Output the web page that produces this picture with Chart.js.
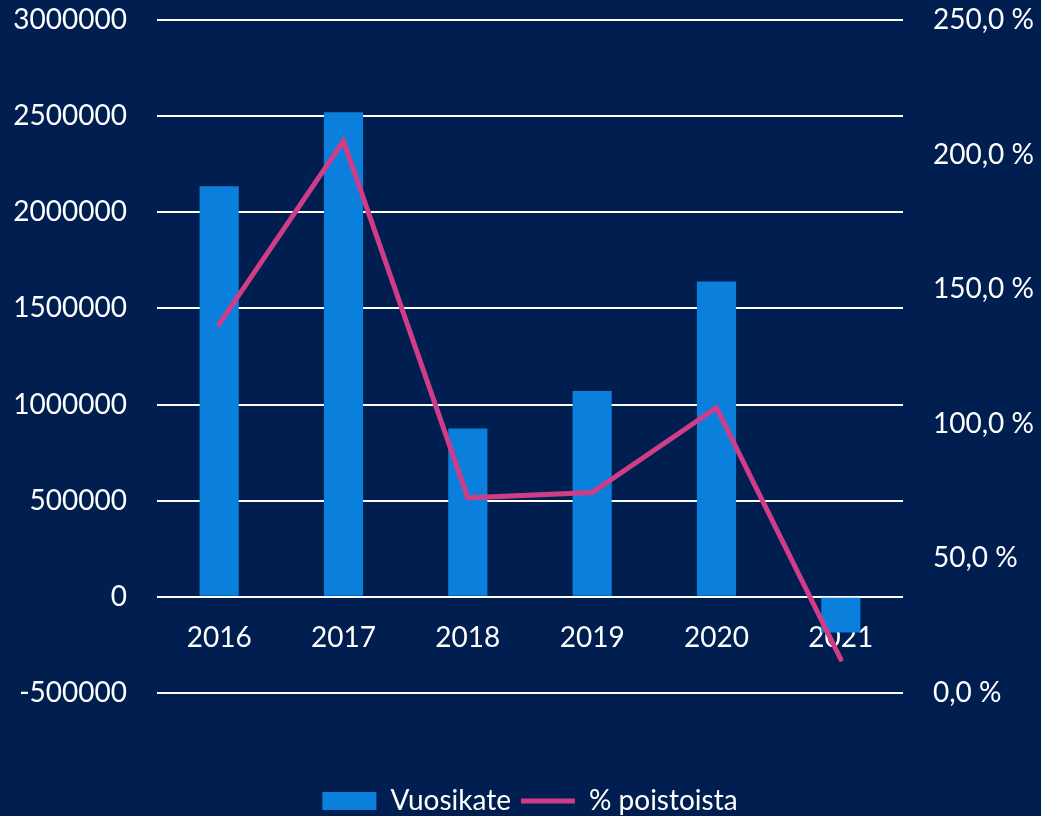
<!DOCTYPE html>
<html>
<head>
<meta charset="utf-8">
<script src="https://cdn.jsdelivr.net/npm/chart.js@4/dist/chart.umd.min.js"></script>
<style>
  html, body { margin: 0; padding: 0; background: #001e50; }
  #wrap { width: 1041px; height: 816px; }
</style>
</head>
<body>
<div id="wrap"><canvas id="js-chart-vuosikate"></canvas></div>
<script>
// Chart data
const years = ['2016', '2017', '2018', '2019', '2020', '2021'];
const vuosikate = [2135000, 2520000, 875000, 1070000, 1640000, -185000];
const poistoista = [137.0, 205.0, 72.5, 74.5, 106.0, 12.5];
const leftTicks = [-500000, 0, 500000, 1000000, 1500000, 2000000, 2500000, 3000000];
const rightTicks = [0, 50, 100, 150, 200, 250];

// Global defaults
Chart.defaults.color = '#ffffff';
Chart.defaults.font.family = 'Lato, "Open Sans", sans-serif';
Chart.defaults.font.size = 28;

let chartCon = document.getElementById('js-chart-vuosikate');

// keep the plot area where the reference has it
function noPad(scale) {
  scale.paddingTop = 0;
  scale.paddingBottom = 0;
}

let chartData = {
  labels: years,
  datasets: [
    {
      type: 'bar',
      label: 'Vuosikate',
      data: vuosikate,
      backgroundColor: '#0a80dc',
      borderWidth: 0,
      barPercentage: 0.315,
      categoryPercentage: 1,
      pointStyle: 'rect',
      yAxisID: 'y',
      order: 1
    },
    {
      type: 'line',
      label: '% poistoista',
      data: poistoista,
      borderColor: '#d13c86',
      backgroundColor: '#d13c86',
      borderWidth: 5,
      borderCapStyle: 'round',
      tension: 0,
      pointRadius: 0,
      pointStyle: 'line',
      yAxisID: 'y1',
      order: 0
    }
  ]
};

let chartOptions = {
  responsive: true,
  maintainAspectRatio: false,
  animation: false,
  layout: {
    padding: { left: 0, right: 0, top: 20, bottom: -9 }
  },
  scales: {
    x: {
      position: { y: 0 },
      grid: { display: false },
      border: { display: false },
      ticks: { padding: 16 },
      afterFit: function (scale) { scale.height = 0; }
    },
    y: {
      position: 'left',
      min: leftTicks[0],
      max: leftTicks[leftTicks.length - 1],
      afterBuildTicks: function (scale) {
        scale.ticks = leftTicks.map(v => ({ value: v }));
      },
      grid: { color: '#ffffff', lineWidth: 2, drawTicks: false },
      border: { display: false },
      ticks: {
        padding: 30,
        callback: function (value) { return String(value); }
      },
      afterFit: function (scale) { scale.width = 157; noPad(scale); }
    },
    y1: {
      position: 'right',
      min: rightTicks[0],
      max: rightTicks[rightTicks.length - 1],
      afterBuildTicks: function (scale) {
        scale.ticks = rightTicks.map(v => ({ value: v }));
      },
      grid: { display: false, drawTicks: false },
      border: { display: false },
      ticks: {
        padding: 30,
        callback: function (value) { return value.toFixed(1).replace('.', ',') + ' %'; }
      },
      afterFit: function (scale) { scale.width = 138; noPad(scale); }
    }
  },
  plugins: {
    tooltip: { enabled: false },
    legend: {
      position: 'bottom',
      fullSize: false,
      title: {
        display: true,
        text: ' ',
        font: { size: 12, lineHeight: 1 },
        padding: { top: 72, bottom: 0 }
      },
      labels: {
        usePointStyle: true,
        pointStyleWidth: 54,
        boxHeight: 18,
        padding: 10,
        color: '#ffffff',
        sort: function (a, b) { return a.datasetIndex - b.datasetIndex; }
      }
    }
  }
};

new Chart(chartCon, { data: chartData, options: chartOptions });
</script>
</body>
</html>
